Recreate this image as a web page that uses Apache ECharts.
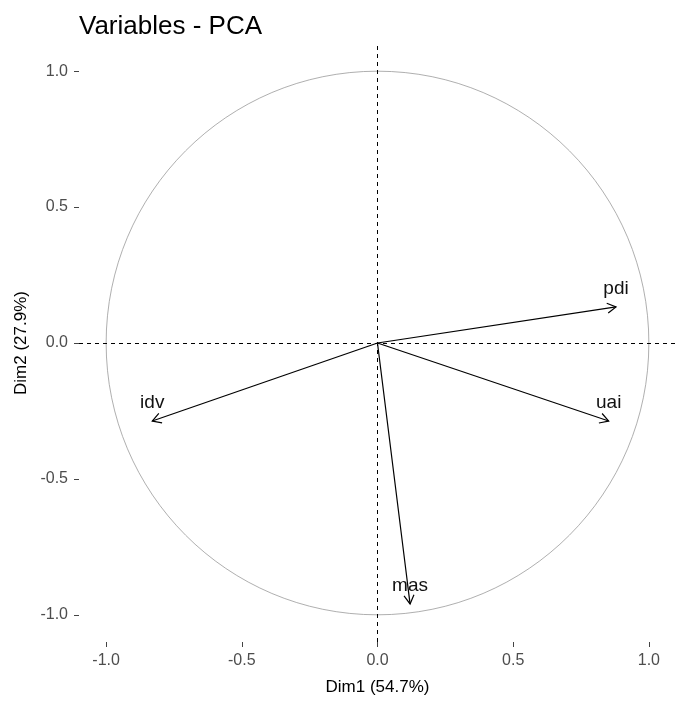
<!DOCTYPE html>
<html><head><meta charset="utf-8">
<script src="https://cdn.jsdelivr.net/npm/echarts@6/dist/echarts.min.js"></script>
<style>html,body{margin:0;padding:0;background:#fff}#c{width:676px;height:701px}</style>
</head><body><div id="c"></div>
<script>
var variables = ['pdi', 'idv', 'mas', 'uai'];
var dim1 = [0.879, -0.830, 0.120, 0.852];
var dim2 = [0.133, -0.287, -0.960, -0.287];
var ticks = [-1.0, -0.5, 0.0, 0.5, 1.0];

var arrowData = variables.map(function (v, i) { return [dim1[i], dim2[i], v]; });
var FONT = '"Liberation Sans", Arial, sans-serif';

var chart = echarts.init(document.getElementById('c'), null, {renderer: 'canvas'});
chart.setOption({
  backgroundColor: '#fff',
  animation: false,
  title: {
    text: 'Variables - PCA', left: 74, top: 9,
    textStyle: {fontFamily: FONT, fontSize: 26, fontWeight: 'normal', color: '#000'}
  },
  grid: {left: 79, right: 0, top: 44, bottom: 59, containLabel: false},
  xAxis: {
    type: 'value', min: -1.1, max: 1.1,
    name: 'Dim1 (54.7%)', nameLocation: 'middle', nameGap: 37,
    nameTextStyle: {fontFamily: FONT, fontSize: 17, color: '#000'},
    axisLine: {show: false, onZero: false},
    axisTick: {show: true, length: 5, lineStyle: {color: '#444'}, customValues: ticks},
    axisLabel: {fontFamily: FONT, fontSize: 16, color: '#4d4d4d', margin: 11, customValues: ticks,
      formatter: function (v) { return v.toFixed(1); }},
    splitLine: {show: false}
  },
  yAxis: {
    type: 'value', min: -1.1, max: 1.1,
    name: 'Dim2 (27.9%)', nameLocation: 'middle', nameGap: 46,
    nameTextStyle: {fontFamily: FONT, fontSize: 17, color: '#000'},
    axisLine: {show: false, onZero: false},
    axisTick: {show: true, length: 5, lineStyle: {color: '#444'}, customValues: ticks},
    axisLabel: {fontFamily: FONT, fontSize: 16, color: '#4d4d4d', margin: 11, customValues: ticks,
      formatter: function (v) { return v.toFixed(1); }},
    splitLine: {show: false}
  },
  series: [
    {
      type: 'custom', silent: true, z: 1,
      data: [[0, 0]],
      renderItem: function (params, api) {
        var c = api.coord([0, 0]);
        var s = api.size([1, 1]);
        return {
          type: 'ellipse',
          shape: {cx: c[0], cy: c[1], rx: s[0], ry: s[1]},
          style: {fill: null, stroke: '#9a9a9a', lineWidth: 0.8}
        };
      },
      markLine: {
        silent: true, symbol: 'none', label: {show: false},
        lineStyle: {color: '#000', type: [4, 4], width: 1},
        data: [{xAxis: 0}, {yAxis: 0}]
      }
    },
    {
      type: 'custom', silent: true, z: 3,
      data: arrowData,
      renderItem: function (params, api) {
        var p0 = api.coord([0, 0]);
        var p1 = api.coord([api.value(0), api.value(1)]);
        var ang = Math.atan2(p1[1] - p0[1], p1[0] - p0[0]);
        var L = 10, a = Math.PI / 6;
        var h1 = [p1[0] - L * Math.cos(ang - a), p1[1] - L * Math.sin(ang - a)];
        var h2 = [p1[0] - L * Math.cos(ang + a), p1[1] - L * Math.sin(ang + a)];
        var name = arrowData[params.dataIndex][2];
        return {
          type: 'group',
          children: [
            {type: 'line', shape: {x1: p0[0], y1: p0[1], x2: p1[0], y2: p1[1]},
              style: {stroke: '#000', lineWidth: 1.2}},
            {type: 'polyline', shape: {points: [h1, p1, h2]},
              style: {stroke: '#000', lineWidth: 1.2, fill: null}},
            {type: 'text', x: p1[0], y: p1[1] - 18,
              style: {text: name, fill: '#111', font: '19px ' + FONT, align: 'center', verticalAlign: 'middle'}}
          ]
        };
      }
    }
  ]
});
</script></body></html>
